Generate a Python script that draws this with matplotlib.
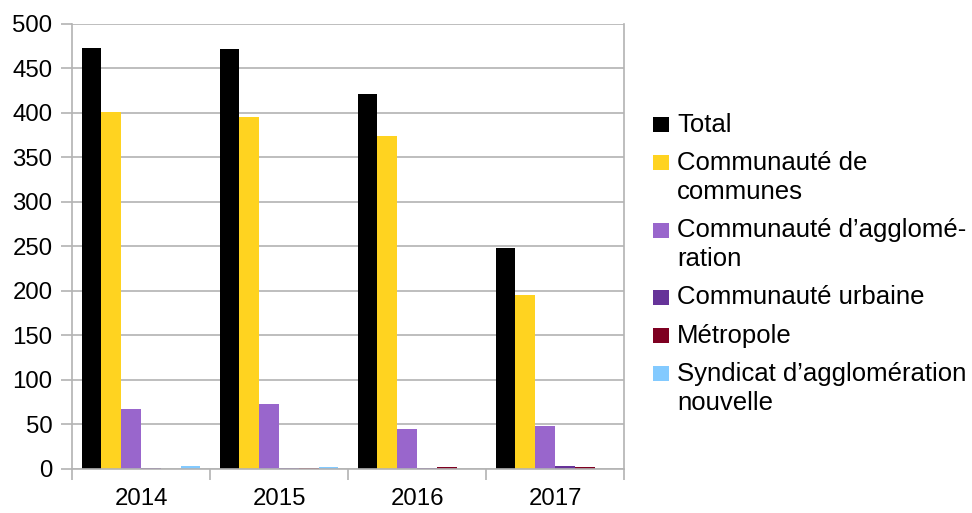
import matplotlib
matplotlib.use("Agg")
import matplotlib.pyplot as plt
from matplotlib.patches import Rectangle
import numpy as np

plt.rcParams['font.family'] = ['Liberation Sans', 'DejaVu Sans']

years = ["2014", "2015", "2016", "2017"]
series_names = ["Total", "Communauté de\ncommunes", "Communauté d’agglomé-\nration",
                "Communauté urbaine", "Métropole", "Syndicat d’agglomération\nnouvelle"]
total = [473, 472, 421, 248]
communaute_communes = [401, 395, 374, 195]
communaute_agglo = [67, 73, 45, 48]
communaute_urbaine = [1, 1, 1, 3]
metropole = [0, 1, 2, 2]
syndicat_agglo = [3, 2, 0, 0]
colors = ["#000000", "#ffd320", "#9966cc", "#663399", "#7e0021", "#83caff"]

data = [total, communaute_communes, communaute_agglo, communaute_urbaine, metropole, syndicat_agglo]

W, H = 972, 513
fig = plt.figure(figsize=(W / 100, H / 100), dpi=100)
ax = fig.add_axes([72 / W, 1 - 468.7 / H, (624 - 72) / W, (468.7 - 24) / H])

x = np.arange(len(years))
n = len(data)
bw = 0.86 / n
for i, (vals, c) in enumerate(zip(data, colors)):
    ax.bar(x + (i - (n - 1) / 2) * bw, vals, width=bw, color=c, linewidth=0, zorder=2)

ax.set_xlim(-0.5, len(years) - 0.5)
ax.set_ylim(0, 500)
ax.set_yticks(np.arange(0, 501, 50))
ax.yaxis.grid(True, color="#b3b3b3", linewidth=1.2, zorder=0)
ax.set_axisbelow(True)
ax.set_xticks(x)
ax.set_xticklabels(years)
ax.set_xticks(np.arange(-0.5, len(years), 1), minor=True)
ax.tick_params(axis="x", which="major", length=0, pad=14, labelsize=17.3)
ax.tick_params(axis="x", which="minor", length=8, width=1.2, color="#b3b3b3")
ax.tick_params(axis="y", length=8, width=1.2, color="#b3b3b3", pad=6, labelsize=17.3)
for s in ["left", "right", "bottom", "top"]:
    ax.spines[s].set_color("#b3b3b3")
    ax.spines[s].set_linewidth(1.2)
ax.spines["top"].set_visible(False)

# legend drawn manually so that the swatch lines up with the first text line
y = 124.5
for name, c in zip(series_names, colors):
    lines = name.split("\n")
    fig.patches.append(Rectangle((653 / W, 1 - (y + 7.5) / H), 16 / W, 15 / H,
                                 transform=fig.transFigure, color=c, linewidth=0))
    for k, ln in enumerate(lines):
        fig.text(677 / W, 1 - (y + 29.5 * k) / H, ln, fontsize=18.5, va="center", ha="left")
    y += 38 + 29.5 * (len(lines) - 1)

fig.savefig("out.png", dpi=100)
